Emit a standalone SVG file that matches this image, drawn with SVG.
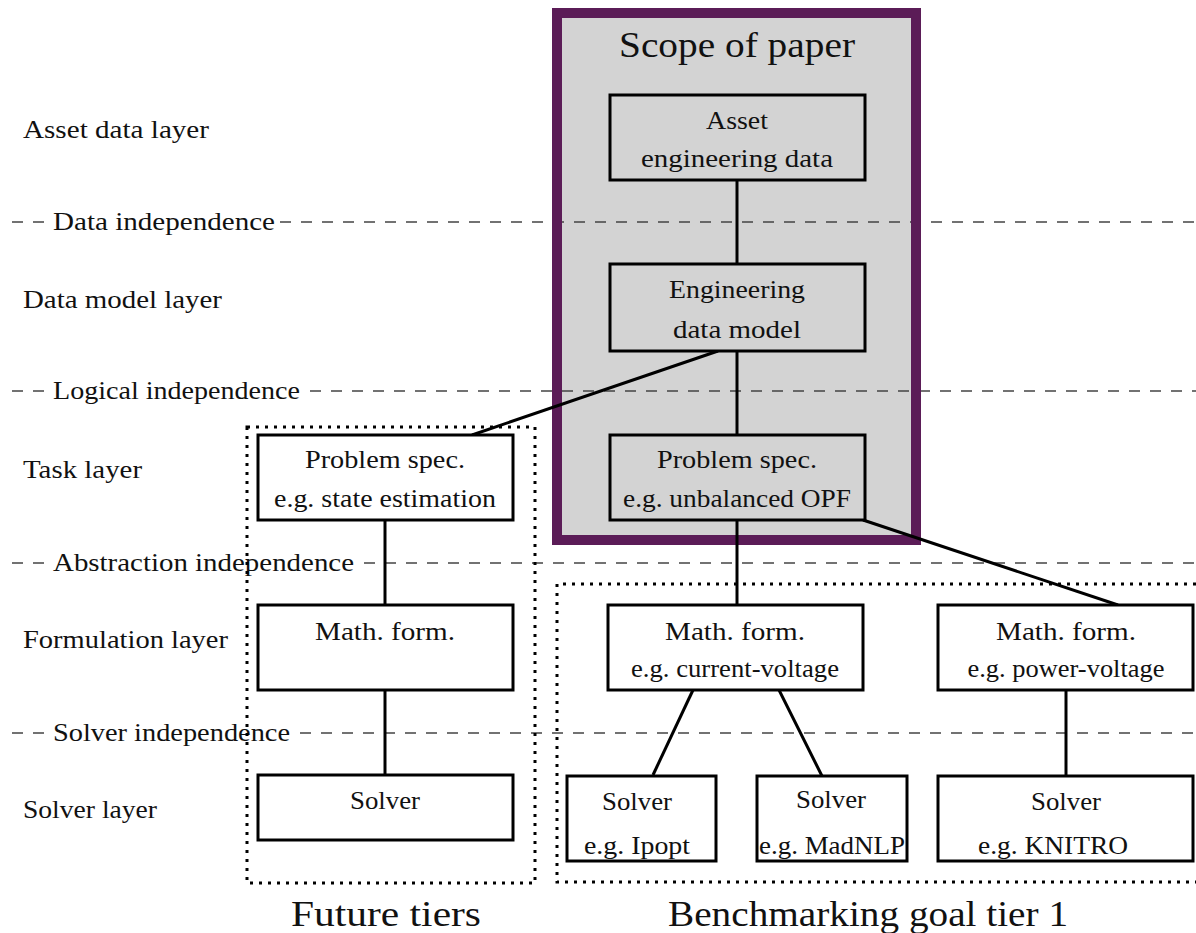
<svg xmlns="http://www.w3.org/2000/svg" width="1196" height="933" viewBox="0 0 1196 933">
  <style>
    text { font-family: "Liberation Serif", "Times New Roman", serif; fill: #111; }
    .lbl { font-size: 26px; }
    .ttl { font-size: 26px; text-anchor: middle; }
    .eg { font-size: 24.5px; text-anchor: middle; }
    .big { font-size: 36px; text-anchor: middle; }
    .box { fill: #fff; stroke: #000; stroke-width: 3; }
    .box-in { fill: #d3d3d3; stroke: #000; stroke-width: 3; }
    .dash { stroke: #444; stroke-width: 1.6; stroke-dasharray: 11 10; fill: none; }
    .dot { stroke: #000; stroke-width: 3; stroke-dasharray: 3 6; fill: none; }
    .edge { stroke: #000; stroke-width: 3; fill: none; }
  </style>

  <rect width="1196" height="933" fill="#fff"/>

  <!-- scope region background -->
  <rect id="scope-fill" x="557" y="13" width="359" height="527" fill="#d3d3d3"/>

  <!-- layer names -->
  <g id="layer-labels">
    <text class="lbl" x="23" y="138" textLength="186" lengthAdjust="spacingAndGlyphs">Asset data layer</text>
    <text class="lbl" x="23" y="308" textLength="199" lengthAdjust="spacingAndGlyphs">Data model layer</text>
    <text class="lbl" x="23" y="478" textLength="119" lengthAdjust="spacingAndGlyphs">Task layer</text>
    <text class="lbl" x="23" y="648" textLength="205" lengthAdjust="spacingAndGlyphs">Formulation layer</text>
    <text class="lbl" x="23" y="818" textLength="134" lengthAdjust="spacingAndGlyphs">Solver layer</text>
  </g>

  <!-- independence boundaries -->
  <g id="boundaries">
    <path class="dash" d="M12 222H44"/>
    <text class="lbl" x="53" y="230" textLength="222" lengthAdjust="spacingAndGlyphs">Data independence</text>
    <path class="dash" d="M280 222H1196"/>

    <path class="dash" d="M12 391H44"/>
    <text class="lbl" x="53" y="399" textLength="247" lengthAdjust="spacingAndGlyphs">Logical independence</text>
    <path class="dash" d="M310 391H1196"/>

    <path class="dash" d="M12 563H44"/>
    <text class="lbl" x="53" y="571" textLength="301" lengthAdjust="spacingAndGlyphs">Abstraction independence</text>
    <path class="dash" d="M364 563H1196"/>

    <path class="dash" d="M12 733H44"/>
    <text class="lbl" x="53" y="741" textLength="237" lengthAdjust="spacingAndGlyphs">Solver independence</text>
    <path class="dash" d="M300 733H1196"/>
  </g>

  <!-- scope frame -->
  <g id="scope">
    <rect x="557" y="13" width="359" height="527" fill="none" stroke="#5b1c57" stroke-width="10"/>
    <text class="big" x="737" y="57" textLength="236" lengthAdjust="spacingAndGlyphs">Scope of paper</text>
  </g>

  <!-- tier groupings -->
  <g id="tier-future">
    <rect class="dot" x="247" y="427" width="288" height="456"/>
    <text class="big" x="386" y="926" textLength="190" lengthAdjust="spacingAndGlyphs">Future tiers</text>
  </g>
  <g id="tier-benchmark">
    <path class="dot" d="M1196 584H557V882H1196"/>
    <text class="big" x="868" y="926" textLength="400" lengthAdjust="spacingAndGlyphs">Benchmarking goal tier 1</text>
  </g>

  <!-- connectors -->
  <g id="connectors">
    <path class="edge" d="M737 180V264"/>
    <path class="edge" d="M737 351V435"/>
    <path class="edge" d="M737 520V605"/>
    <path class="edge" d="M718 351L472 435"/>
    <path class="edge" d="M863 520L1118 605"/>
    <path class="edge" d="M385 520V605"/>
    <path class="edge" d="M385 690V775"/>
    <path class="edge" d="M693 690L653 775"/>
    <path class="edge" d="M779 690L822 776"/>
    <path class="edge" d="M1066 690V776"/>
  </g>

  <!-- nodes -->
  <g id="asset-data">
    <rect class="box-in" x="610" y="95" width="255" height="85"/>
    <text class="ttl" x="737" y="129" textLength="62" lengthAdjust="spacingAndGlyphs">Asset</text>
    <text class="ttl" x="737" y="167" textLength="192" lengthAdjust="spacingAndGlyphs">engineering data</text>
  </g>
  <g id="data-model">
    <rect class="box-in" x="610" y="264" width="255" height="87"/>
    <text class="ttl" x="737" y="298" textLength="136" lengthAdjust="spacingAndGlyphs">Engineering</text>
    <text class="ttl" x="737" y="338" textLength="128" lengthAdjust="spacingAndGlyphs">data model</text>
  </g>
  <g id="spec-opf">
    <rect class="box-in" x="610" y="435" width="255" height="85"/>
    <text class="ttl" x="737" y="468" textLength="160" lengthAdjust="spacingAndGlyphs">Problem spec.</text>
    <text class="eg" x="737" y="507" textLength="228" lengthAdjust="spacingAndGlyphs">e.g. unbalanced OPF</text>
  </g>
  <g id="spec-se">
    <rect class="box" x="258" y="435" width="255" height="85"/>
    <text class="ttl" x="385" y="468" textLength="160" lengthAdjust="spacingAndGlyphs">Problem spec.</text>
    <text class="eg" x="385" y="507" textLength="222" lengthAdjust="spacingAndGlyphs">e.g. state estimation</text>
  </g>
  <g id="form-future">
    <rect class="box" x="258" y="605" width="255" height="85"/>
    <text class="ttl" x="385" y="640" textLength="140" lengthAdjust="spacingAndGlyphs">Math. form.</text>
  </g>
  <g id="solver-future">
    <rect class="box" x="258" y="775" width="255" height="65"/>
    <text class="ttl" x="385" y="809" textLength="70" lengthAdjust="spacingAndGlyphs">Solver</text>
  </g>
  <g id="form-iv">
    <rect class="box" x="608" y="605" width="255" height="85"/>
    <text class="ttl" x="735" y="640" textLength="140" lengthAdjust="spacingAndGlyphs">Math. form.</text>
    <text class="eg" x="735" y="677" textLength="208" lengthAdjust="spacingAndGlyphs">e.g. current-voltage</text>
  </g>
  <g id="form-pv">
    <rect class="box" x="938" y="605" width="255" height="85"/>
    <text class="ttl" x="1066" y="640" textLength="140" lengthAdjust="spacingAndGlyphs">Math. form.</text>
    <text class="eg" x="1066" y="677" textLength="197" lengthAdjust="spacingAndGlyphs">e.g. power-voltage</text>
  </g>
  <g id="solver-ipopt">
    <rect class="box" x="567" y="776" width="149" height="85"/>
    <text class="ttl" x="637" y="810" textLength="70" lengthAdjust="spacingAndGlyphs">Solver</text>
    <text class="eg" x="637" y="854" textLength="106" lengthAdjust="spacingAndGlyphs">e.g. Ipopt</text>
  </g>
  <g id="solver-madnlp">
    <rect class="box" x="757" y="776" width="150" height="85"/>
    <text class="ttl" x="831" y="808" textLength="70" lengthAdjust="spacingAndGlyphs">Solver</text>
    <text class="eg" x="832" y="854" textLength="146" lengthAdjust="spacingAndGlyphs">e.g. MadNLP</text>
  </g>
  <g id="solver-knitro">
    <rect class="box" x="938" y="776" width="255" height="85"/>
    <text class="ttl" x="1066" y="810" textLength="70" lengthAdjust="spacingAndGlyphs">Solver</text>
    <text class="eg" x="1053" y="854" textLength="150" lengthAdjust="spacingAndGlyphs">e.g. KNITRO</text>
  </g>
</svg>
